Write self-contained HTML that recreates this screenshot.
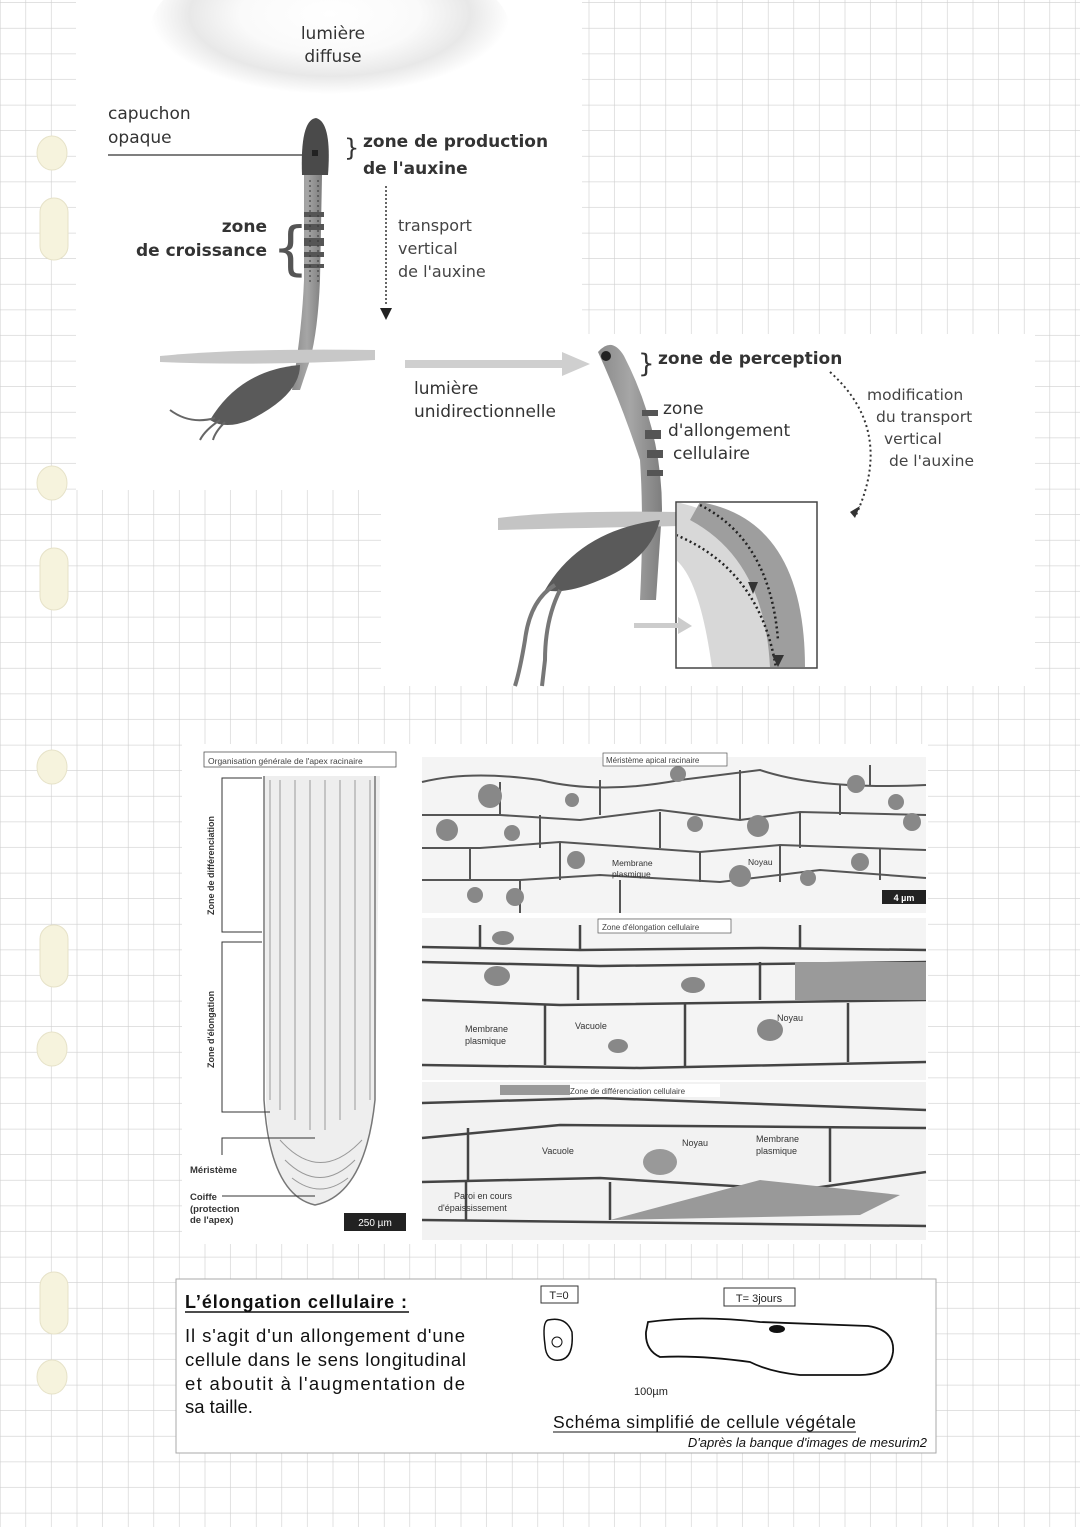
<!DOCTYPE html>
<html><head><meta charset="utf-8"><style>
html,body{margin:0;padding:0;background:#fff}
svg{display:block}
text{font-family:"DejaVu Sans","Liberation Sans",sans-serif}
text.a,.a text{font-family:"Liberation Sans",Arial,sans-serif}
</style></head><body>
<svg width="1080" height="1527" viewBox="0 0 1080 1527" xmlns="http://www.w3.org/2000/svg">
<defs>
<pattern id="g" width="25.6" height="25.6" patternUnits="userSpaceOnUse" x="0.5" y="3">
<path d="M25.6 0V25.6M0 25.6H25.6" stroke="#cfcfcf" stroke-width="1.2" fill="none"/>
</pattern>
<radialGradient id="glow" cx="0.5" cy="0.4" r="0.5">
<stop offset="0" stop-color="#fff"/><stop offset="0.5" stop-color="#fafafa"/><stop offset="0.78" stop-color="#e8e8e8"/><stop offset="1" stop-color="#fff"/>
</radialGradient>
<linearGradient id="stem" x1="0" x2="1"><stop offset="0" stop-color="#8a8a8a"/><stop offset="0.5" stop-color="#a6a6a6"/><stop offset="1" stop-color="#7e7e7e"/></linearGradient>
</defs>
<rect width="1080" height="1527" fill="#fff"/>
<rect width="1080" height="1527" fill="url(#g)"/>

<g fill="#f6f3dd" stroke="#e6e2c8">
<ellipse cx="52" cy="153" rx="15" ry="17"/>
<rect x="40" y="198" width="28" height="62" rx="14"/>
<ellipse cx="52" cy="483" rx="15" ry="17"/>
<rect x="40" y="548" width="28" height="62" rx="14"/>
<ellipse cx="52" cy="767" rx="15" ry="17"/>
<rect x="40" y="925" width="28" height="62" rx="14"/>
<ellipse cx="52" cy="1049" rx="15" ry="17"/>
<rect x="40" y="1272" width="28" height="62" rx="14"/>
<ellipse cx="52" cy="1377" rx="15" ry="17"/>
</g>

<rect x="76" y="0" width="506" height="490" fill="#fff"/>
<ellipse cx="330" cy="30" rx="180" ry="80" fill="url(#glow)"/>
<text x="333" y="39" font-size="17" text-anchor="middle" fill="#333">lumière</text>
<text x="333" y="62" font-size="17" text-anchor="middle" fill="#333">diffuse</text>
<text x="108" y="119" font-size="17" fill="#333">capuchon</text>
<text x="108" y="143" font-size="17" fill="#333">opaque</text>
<line x1="108" y1="155" x2="310" y2="155" stroke="#333" stroke-width="1.2"/>
<path d="M304 175 L322 175 L320 280 Q318 330 310 360 L300 390 L292 390 Q302 330 304 280 Z" fill="url(#stem)"/>
<path d="M302 175 Q300 120 316 118 Q332 122 328 175 Z" fill="#4a4a4a"/>
<rect x="312" y="150" width="6" height="6" fill="#222"/>
<g fill="#555"><rect x="304" y="212" width="20" height="5"/><rect x="304" y="224" width="20" height="6"/><rect x="304" y="238" width="20" height="8"/><rect x="304" y="252" width="20" height="5"/><rect x="304" y="264" width="20" height="4"/></g>
<line x1="310" y1="180" x2="310" y2="285" stroke="#333" stroke-dasharray="2 3"/>
<line x1="318" y1="180" x2="318" y2="285" stroke="#333" stroke-dasharray="2 3"/>
<path d="M160 356 Q240 348 375 350 L375 360 Q260 366 160 362 Z" fill="#c8c8c8"/>
<path d="M210 420 Q240 370 300 365 Q300 395 250 420 Q225 430 210 420 Z" fill="#5a5a5a"/>
<path d="M215 418 Q190 425 170 410 M220 420 Q205 430 200 440 M225 422 Q215 432 213 440" stroke="#666" stroke-width="2" fill="none"/>
<text x="344" y="156" font-size="24" fill="#333">}</text>
<text x="363" y="147" font-size="17" font-weight="bold" fill="#333">zone de production</text>
<text x="363" y="174" font-size="17" font-weight="bold" fill="#333">de l'auxine</text>
<text x="267" y="232" font-size="17" font-weight="bold" fill="#333" text-anchor="end">zone</text>
<text x="267" y="256" font-size="17" font-weight="bold" fill="#333" text-anchor="end">de croissance</text>
<text x="272" y="268" font-size="58" fill="#555">{</text>
<line x1="386" y1="186" x2="386" y2="306" stroke="#333" stroke-width="1.5" stroke-dasharray="2 2"/>
<path d="M380 308 L392 308 L386 320 Z" fill="#222"/>
<text x="398" y="231" font-size="16" fill="#444">transport</text>
<text x="398" y="254" font-size="16" fill="#444">vertical</text>
<text x="398" y="277" font-size="16" fill="#444">de l'auxine</text>

<rect x="381" y="334" width="654" height="352" fill="#fff"/>
<rect x="405" y="360" width="160" height="8" fill="#cfcfcf"/>
<path d="M562 352 L590 364 L562 376 Z" fill="#cfcfcf"/>
<text x="414" y="394" font-size="17" fill="#333">lumière</text>
<text x="414" y="417" font-size="17" fill="#333">unidirectionnelle</text>
<path d="M598 352 Q612 336 624 356 Q662 430 662 510 L656 600 L640 600 Q644 520 640 460 Q620 400 598 352 Z" fill="url(#stem)"/>
<circle cx="606" cy="356" r="5" fill="#222"/>
<g fill="#555"><rect x="642" y="410" width="16" height="6"/><rect x="645" y="430" width="16" height="9"/><rect x="647" y="450" width="16" height="8"/><rect x="647" y="470" width="16" height="6"/></g>
<path d="M498 518 Q560 510 680 512 L680 526 Q580 528 498 530 Z" fill="#c4c4c4"/>
<path d="M545 590 Q580 530 660 520 Q650 560 600 580 Q565 595 545 590 Z" fill="#5a5a5a"/>
<path d="M555 585 Q530 600 525 640 Q520 670 515 686 M560 590 Q545 620 545 660 L542 686" stroke="#777" stroke-width="4" fill="none"/>
<text x="638" y="372" font-size="26" fill="#333">}</text>
<text x="658" y="364" font-size="17" font-weight="bold" fill="#333">zone de perception</text>
<text x="663" y="414" font-size="17" fill="#333">zone</text>
<text x="668" y="436" font-size="17" fill="#333">d'allongement</text>
<text x="673" y="459" font-size="17" fill="#333">cellulaire</text>
<path d="M830 372 Q895 430 856 515" stroke="#333" stroke-width="2" fill="none" stroke-dasharray="2 3"/>
<path d="M850 512 L860 506 L855 518 Z" fill="#333"/>
<text x="867" y="400" font-size="15.5" fill="#444">modification</text>
<text x="876" y="422" font-size="15.5" fill="#444">du transport</text>
<text x="884" y="444" font-size="15.5" fill="#444">vertical</text>
<text x="889" y="466" font-size="15.5" fill="#444">de l'auxine</text>
<rect x="676" y="502" width="141" height="166" fill="#fff" stroke="#444" stroke-width="1.5"/>
<clipPath id="ic"><rect x="677" y="503" width="139" height="164"/></clipPath>
<g clip-path="url(#ic)">
<path d="M676 502 Q800 530 800 668 L712 668 Q700 580 676 560 Z" fill="#d8d8d8"/>
<path d="M700 502 Q805 520 805 668 L770 668 Q765 560 690 520 Z" fill="#9e9e9e"/>
<path d="M676 535 Q760 570 776 668" stroke="#222" stroke-width="2.5" stroke-dasharray="2 3" fill="none"/>
<path d="M700 505 Q770 540 778 640" stroke="#222" stroke-width="2.5" stroke-dasharray="2 3" fill="none"/>
</g>
<path d="M748 582 L758 582 L753 594 Z" fill="#333"/>
<path d="M772 655 L784 655 L778 667 Z" fill="#333"/>
<rect x="634" y="623" width="46" height="5" fill="#ccc"/>
<path d="M678 617 L692 626 L678 634 Z" fill="#ccc"/>

<g class="a">
<rect x="182" y="744" width="746" height="500" fill="#fff"/>
<rect x="204" y="752" width="192" height="15" fill="#fff" stroke="#555" stroke-width="0.8"/>
<text x="208" y="764" font-size="8.5" fill="#444">Organisation générale de l'apex racinaire</text>
<path d="M264 776 L266 1100 Q270 1195 315 1205 Q365 1195 375 1100 L380 776 Z" fill="#eeeeee"/>
<g stroke="#999" stroke-width="1" fill="none">
<path d="M270 780 V1100 M280 780 V1110 M295 780 V1120 M310 780 V1130 M325 780 V1130 M340 780 V1120 M355 780 V1110 M370 780 V1100"/>
<path d="M280 1140 Q320 1185 362 1140 M285 1160 Q320 1195 355 1160 M292 1178 Q320 1200 348 1178"/>
</g>
<path d="M264 776 V1100 Q270 1195 315 1205 Q365 1195 375 1100 V776" stroke="#777" stroke-width="1.5" fill="none"/>
<path d="M232 778 H222 V932 H232 M228 778 H262 M228 932 H262" stroke="#333" fill="none"/>
<path d="M232 942 H222 V1112 H232 M228 942 H262 M228 1112 H270" stroke="#333" fill="none"/>
<text transform="translate(214 915) rotate(-90)" font-size="9" fill="#333" font-weight="bold">Zone de différenciation</text>
<text transform="translate(214 1068) rotate(-90)" font-size="9" fill="#333" font-weight="bold">Zone d'élongation</text>
<path d="M222 1155 V1138 H315" stroke="#333" fill="none"/>
<text x="190" y="1173" font-size="9.5" fill="#333" font-weight="bold">Méristème</text>
<line x1="222" y1="1196" x2="315" y2="1196" stroke="#333"/>
<text x="190" y="1200" font-size="9.5" fill="#333" font-weight="bold">Coiffe</text>
<text x="190" y="1212" font-size="9.5" fill="#333" font-weight="bold">(protection</text>
<text x="190" y="1223" font-size="9.5" fill="#333" font-weight="bold">de l'apex)</text>
<rect x="344" y="1213" width="62" height="18" fill="#222"/>
<text x="375" y="1226" font-size="10" fill="#fff" text-anchor="middle">250 µm</text>

<g stroke="#555" stroke-width="2" fill="none">
<rect x="422" y="757" width="504" height="156" fill="#f4f4f4" stroke="none"/>
<path d="M422 782 Q470 770 540 780 Q600 795 680 780 L760 770 Q820 790 926 785"/>
<path d="M422 815 H500 L580 820 L660 810 L740 820 L800 812 L926 815"/>
<path d="M422 848 H480 L560 842 L700 852 L780 845 L926 850"/>
<path d="M422 880 H520 L600 875 L720 882 L820 870 L926 878"/>
<path d="M500 782 V815 M540 815 V848 M600 780 V815 M660 812 V848 M700 852 V882 M740 770 V820 M800 812 V848 M840 785 V815 M880 848 V880 M470 848 V880 M520 880 V913 M560 842 V880 M620 880 V913 M780 845 V882 M870 765 V785"/>
</g>
<g fill="#888"><circle cx="490" cy="796" r="12"/><circle cx="572" cy="800" r="7"/><circle cx="447" cy="830" r="11"/><circle cx="512" cy="833" r="8"/><circle cx="576" cy="860" r="9"/><circle cx="695" cy="824" r="8"/><circle cx="758" cy="826" r="11"/><circle cx="740" cy="876" r="11"/><circle cx="856" cy="784" r="9"/><circle cx="896" cy="802" r="8"/><circle cx="860" cy="862" r="9"/><circle cx="912" cy="822" r="9"/><circle cx="475" cy="895" r="8"/><circle cx="515" cy="897" r="9"/><circle cx="808" cy="878" r="8"/><circle cx="678" cy="774" r="8"/></g>
<rect x="603" y="753" width="124" height="13" fill="#fff" stroke="#555" stroke-width="0.7"/>
<text x="606" y="763" font-size="8" fill="#444">Méristème apical racinaire</text>
<text x="612" y="866" font-size="8.5" fill="#333">Membrane</text>
<text x="612" y="877" font-size="8.5" fill="#333">plasmique</text>
<text x="748" y="865" font-size="8.5" fill="#333">Noyau</text>
<rect x="882" y="890" width="44" height="14" fill="#222"/>
<text x="904" y="901" font-size="9" fill="#fff" text-anchor="middle" font-weight="bold">4 µm</text>

<rect x="422" y="918" width="504" height="162" fill="#f4f4f4"/>
<g stroke="#444" stroke-width="2.5" fill="none">
<path d="M422 947 L580 950 L760 948 L926 950"/>
<path d="M422 962 L600 966 L926 962"/>
<path d="M422 1000 L560 1005 L926 1000"/>
<path d="M422 1065 L640 1068 L926 1062"/>
<path d="M480 925 V947 M580 925 V950 M800 925 V948 M578 966 V1000 M760 962 V1000 M545 1005 V1065 M685 1003 V1068 M848 1003 V1062"/>
</g>
<g fill="#888"><ellipse cx="503" cy="938" rx="11" ry="7"/><ellipse cx="497" cy="976" rx="13" ry="10"/><ellipse cx="693" cy="985" rx="12" ry="8"/><ellipse cx="770" cy="1030" rx="13" ry="11"/><ellipse cx="618" cy="1046" rx="10" ry="7"/><rect x="795" y="962" width="131" height="38" fill="#9a9a9a"/></g>
<rect x="598" y="919" width="133" height="14" fill="#fff" stroke="#555" stroke-width="0.7"/>
<text x="602" y="930" font-size="8" fill="#444">Zone d'élongation cellulaire</text>
<text x="465" y="1032" font-size="9" fill="#333">Membrane</text>
<text x="465" y="1044" font-size="9" fill="#333">plasmique</text>
<text x="575" y="1029" font-size="9" fill="#333">Vacuole</text>
<text x="777" y="1021" font-size="9" fill="#333">Noyau</text>

<rect x="422" y="1082" width="504" height="158" fill="#f2f2f2"/>
<g stroke="#444" stroke-width="2.5" fill="none">
<path d="M422 1103 L600 1098 L926 1110"/>
<path d="M422 1138 L560 1125 L926 1128"/>
<path d="M422 1182 L600 1178 L800 1190 L926 1172"/>
<path d="M422 1220 L926 1226"/>
<path d="M468 1128 V1182 M830 1128 V1182 M610 1182 V1220 M466 1182 V1220"/>
</g>
<g fill="#999"><ellipse cx="660" cy="1162" rx="17" ry="13"/><path d="M610 1220 L760 1180 L900 1195 L860 1215 Z"/><rect x="500" y="1085" width="80" height="10"/></g>
<rect x="570" y="1084" width="150" height="13" fill="#fff"/>
<text x="570" y="1094" font-size="8" fill="#444">Zone de différenciation cellulaire</text>
<text x="542" y="1154" font-size="9" fill="#333">Vacuole</text>
<text x="682" y="1146" font-size="9" fill="#333">Noyau</text>
<text x="756" y="1142" font-size="9" fill="#333">Membrane</text>
<text x="756" y="1154" font-size="9" fill="#333">plasmique</text>
<text x="454" y="1199" font-size="9" fill="#333">Paroi en cours</text>
<text x="438" y="1211" font-size="9" fill="#333">d'épaississement</text>
</g>

<g class="a">
<rect x="176" y="1279" width="760" height="174" fill="#fff" stroke="#aaa"/>
<text x="185" y="1308" font-size="18" font-weight="bold" fill="#111" textLength="222">L’élongation cellulaire :</text>
<line x1="185" y1="1312" x2="409" y2="1312" stroke="#111" stroke-width="1.5"/>
<g font-size="18.5" fill="#111">
<text x="185" y="1342" textLength="280">Il s'agit d'un allongement d'une</text>
<text x="185" y="1366" textLength="281">cellule dans le sens longitudinal</text>
<text x="185" y="1390" textLength="280">et aboutit à l'augmentation de</text>
<text x="185" y="1413">sa taille.</text>
</g>
<rect x="541" y="1286" width="37" height="17" fill="#fff" stroke="#333"/>
<text x="559" y="1299" font-size="11" text-anchor="middle" fill="#222">T=0</text>
<rect x="724" y="1288" width="71" height="18" fill="#fff" stroke="#333"/>
<text x="759" y="1302" font-size="11" text-anchor="middle" fill="#222">T= 3jours</text>
<path d="M548 1320 Q566 1316 572 1332 Q574 1358 560 1360 Q546 1362 545 1345 Q542 1322 548 1320 Z" stroke="#111" stroke-width="1.5" fill="none"/>
<circle cx="557" cy="1342" r="5" stroke="#111" fill="none"/>
<path d="M648 1322 Q700 1315 760 1322 L868 1326 Q895 1330 893 1352 Q890 1375 860 1375 L800 1375 Q770 1372 750 1362 Q700 1355 660 1357 Q645 1350 646 1332 Z" stroke="#111" stroke-width="1.8" fill="none"/>
<ellipse cx="777" cy="1329" rx="8" ry="4" fill="#111"/>
<text x="634" y="1395" font-size="11" fill="#222">100µm</text>
<text x="553" y="1428" font-size="17.5" fill="#111" textLength="303">Schéma simplifié de cellule végétale</text>
<line x1="553" y1="1432" x2="856" y2="1432" stroke="#111"/>
<text x="927" y="1447" font-size="13" fill="#111" font-style="italic" text-anchor="end">D'après la banque d'images de mesurim2</text>
</g>
</svg>
</body></html>
